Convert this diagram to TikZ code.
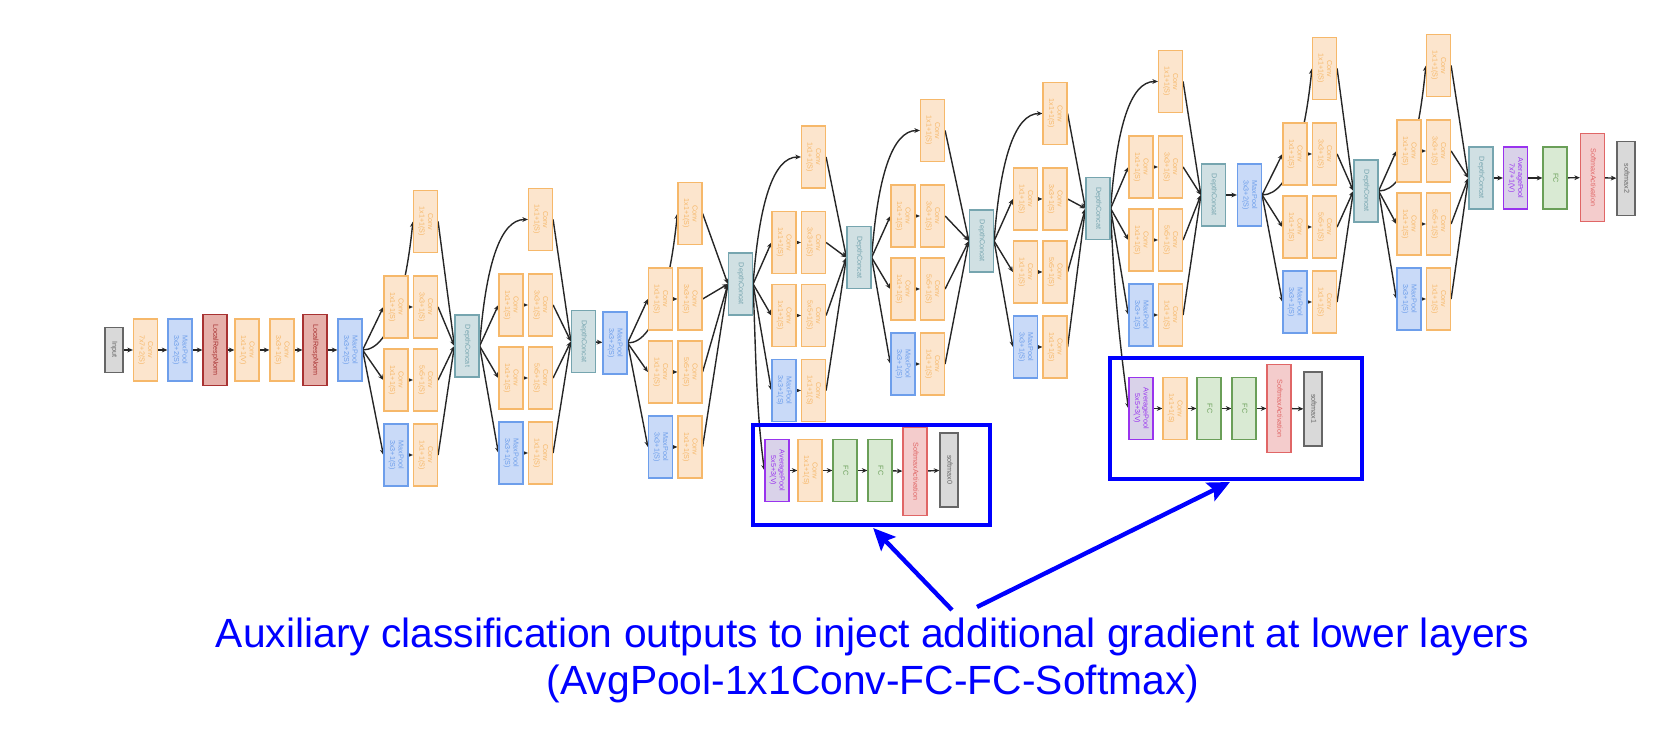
\documentclass[tikz,border=0pt]{standalone}
\usepackage{fontspec}
\setmainfont{Liberation Sans}
\usepackage{graphicx}
\usetikzlibrary{arrows.meta}
\pgfdeclarelayer{bg}
\pgfsetlayers{bg,main}
\definecolor{convF}{HTML}{FCE5CD}
\definecolor{convD}{HTML}{F6B86A}
\definecolor{poolF}{HTML}{C9DAF8}
\definecolor{poolD}{HTML}{6D9EEB}
\definecolor{lrnF}{HTML}{E6B0AA}
\definecolor{lrnD}{HTML}{A83232}
\definecolor{dcF}{HTML}{D0E0E3}
\definecolor{dcD}{HTML}{76A5AF}
\definecolor{apF}{HTML}{D9D2E9}
\definecolor{apD}{HTML}{9933EE}
\definecolor{fcF}{HTML}{D9EAD3}
\definecolor{fcD}{HTML}{6A9F58}
\definecolor{smaF}{HTML}{F4CCCC}
\definecolor{smaD}{HTML}{E06666}
\definecolor{smF}{HTML}{D9D9D9}
\definecolor{smD}{HTML}{666666}
\definecolor{capblue}{HTML}{0000FF}
\newcommand{\lbl}[1]{\rotatebox{-90}{\begin{tabular}{@{}c@{}}#1\end{tabular}}}
\tikzset{
  blk/.style={draw, line width=0.6pt, minimum width=12pt, minimum height=31pt, inner sep=0pt,
    font=\fontsize{3.6}{4.2}\selectfont},
  conv/.style={blk, fill=convF, draw=convD, text=convD},
  pool/.style={blk, fill=poolF, draw=poolD, text=poolD},
  lrn/.style={blk, fill=lrnF, draw=lrnD, text=lrnD, minimum height=35.5pt},
  dc/.style={blk, fill=dcF, draw=dcD, text=dcD},
  apool/.style={blk, fill=apF, draw=apD, text=apD},
  fc/.style={blk, fill=fcF, draw=fcD, text=fcD},
  sma/.style={blk, fill=smaF, draw=smaD, text=smaD, minimum height=44pt},
  smx/.style={blk, fill=smF, draw=smD, text=smD, minimum width=9pt, minimum height=37pt},
  inp/.style={blk, fill=smF, draw=smD, text=smD, minimum width=9pt, minimum height=22.5pt},
  edge/.style={draw=black!85, line width=0.7pt, -{Stealth[length=2.8pt,width=2.4pt]}},
  auxframe/.style={draw=capblue, line width=1.8pt, inner sep=0pt},
  bigarrow/.style={draw=capblue, line width=2.2pt, -{Stealth[length=11pt,width=10pt,inset=2pt]}},
  captext/.style={text=capblue, font=\fontsize{20.4}{24}\selectfont, inner sep=0pt},
}
% #1 prefix, #2 input node, #3 col1 x, #4 row2 y, #5 DC x, #6 DC y, #7 top style
\newcommand{\incep}[7]{%
  \node[conv] (#1t) at (#3+29.5,#4-85.5) {\lbl{Conv\\1x1+1(S)}};
  \node[conv] (#1a) at (#3,#4) {\lbl{Conv\\1x1+1(S)}};
  \node[conv] (#1b) at (#3+29.5,#4) {\lbl{Conv\\3x3+1(S)}};
  \node[conv] (#1c) at (#3,#4+73) {\lbl{Conv\\1x1+1(S)}};
  \node[conv] (#1d) at (#3+29.5,#4+73) {\lbl{Conv\\5x5+1(S)}};
  \node[pool] (#1e) at (#3,#4+148) {\lbl{MaxPool\\3x3+1(S)}};
  \node[conv] (#1f) at (#3+29.5,#4+148) {\lbl{Conv\\1x1+1(S)}};
  \node[dc] (#1o) at (#5,#6) {\lbl{DepthConcat}};
  \begin{pgfonlayer}{bg}
    \draw[edge] (#2.east) -- (#1a.west);
    \draw[edge] (#2.east) -- (#1c.west);
    \draw[edge] (#2.east) -- (#1e.west);
    \draw[edge] (#1a) -- (#1b);
    \draw[edge] (#1c) -- (#1d);
    \draw[edge] (#1e) -- (#1f);
    \draw[edge] (#1t.east) -- (#1o.west);
    \draw[edge] (#1b.east) -- (#1o.west);
    \draw[edge] (#1d.east) -- (#1o.west);
    \draw[edge] (#1f.east) -- (#1o.west);
    \ifnum#7=0
      \draw[edge] (#2.east) .. controls +(30,0) and +(-6,60) .. (#1t.west);
    \else
      \draw[edge] (#2.east) .. controls +(6,-80) and +(-28,0) .. (#1t.west);
    \fi
  \end{pgfonlayer}
}
\begin{document}
\begin{tikzpicture}[x=0.5pt,y=-0.5pt]
\useasboundingbox (0,0) rectangle (1680,747);
% stem
\node[inp] (in) at (114,350) {\lbl{Input}};
\node[conv] (c1) at (145.5,350) {\lbl{Conv\\7x7+2(S)}};
\node[pool] (p1) at (180,350) {\lbl{MaxPool\\3x3+2(S)}};
\node[lrn] (n1) at (215,350) {\lbl{LocalRespNorm}};
\node[conv] (c2) at (247,350) {\lbl{Conv\\1x1+1(V)}};
\node[conv] (c3) at (282,350) {\lbl{Conv\\3x3+1(S)}};
\node[lrn] (n2) at (315,350) {\lbl{LocalRespNorm}};
\node[pool] (p2) at (350,350) {\lbl{MaxPool\\3x3+2(S)}};
\begin{pgfonlayer}{bg}
\draw[edge] (in) -- (c1);
\draw[edge] (c1) -- (p1);
\draw[edge] (p1) -- (n1);
\draw[edge] (n1) -- (c2);
\draw[edge] (c2) -- (c3);
\draw[edge] (c3) -- (n2);
\draw[edge] (n2) -- (p2);
\end{pgfonlayer}
% inception modules
\incep{mA}{p2}{396}{307}{467}{346}{0}
\incep{mB}{mAo}{511}{305}{583.5}{341.5}{1}
\node[pool] (p3) at (615,343) {\lbl{MaxPool\\3x3+2(S)}};
\begin{pgfonlayer}{bg}\draw[edge] (mBo) -- (p3);\end{pgfonlayer}
\incep{mC}{p3}{660.5}{299}{740.5}{284}{0}
\incep{mD}{mCo}{784}{242.5}{859}{257.5}{1}
\incep{mE}{mDo}{903}{216}{981.5}{241}{1}
\incep{mF}{mEo}{1025.5}{199}{1098}{208.5}{1}
\incep{mG}{mFo}{1141}{167}{1213.5}{195}{1}
\node[pool] (p4) at (1249.5,195) {\lbl{MaxPool\\3x3+2(S)}};
\begin{pgfonlayer}{bg}\draw[edge] (mGo) -- (p4);\end{pgfonlayer}
\incep{mH}{p4}{1295}{154}{1366}{191}{0}
\incep{mI}{mHo}{1409}{151}{1481}{178}{0}
% head
\node[apool] (ap) at (1515.5,178) {\lbl{AveragePool\\7x7+1(V)}};
\node[fc] (fc) at (1555,178) {\lbl{FC}};
\node[sma] (sa) at (1592.5,177.5) {\lbl{SoftmaxActivation}};
\node[smx] (s2) at (1626,178.5) {\lbl{softmax2}};
\begin{pgfonlayer}{bg}
\draw[edge] (mIo) -- (ap);
\draw[edge] (ap) -- (fc);
\draw[edge] (fc) -- (sa);
\draw[edge] (sa) -- (s2);
\end{pgfonlayer}
% auxiliary 1
\node[auxframe, minimum width=118.5pt, minimum height=50pt] (box1) at (871.5,475) {};
\node[apool] (x1a) at (777,470.5) {\lbl{AveragePool\\5x5+3(V)}};
\node[conv] (x1b) at (810,470.5) {\lbl{Conv\\1x1+1(S)}};
\node[fc] (x1c) at (845,470.5) {\lbl{FC}};
\node[fc] (x1d) at (880,470.5) {\lbl{FC}};
\node[sma] (x1e) at (915,471.5) {\lbl{SoftmaxActivation}};
\node[smx] (x1f) at (949,470) {\lbl{softmax0}};
% auxiliary 2
\node[auxframe, minimum width=126pt, minimum height=60.5pt] (box2) at (1236,418.5) {};
\node[apool] (x2a) at (1141,408.5) {\lbl{AveragePool\\5x5+3(V)}};
\node[conv] (x2b) at (1175,408.5) {\lbl{Conv\\1x1+1(S)}};
\node[fc] (x2c) at (1209,408.5) {\lbl{FC}};
\node[fc] (x2d) at (1244,408.5) {\lbl{FC}};
\node[sma] (x2e) at (1279,408.5) {\lbl{SoftmaxActivation}};
\node[smx] (x2f) at (1313,409) {\lbl{softmax1}};
\begin{pgfonlayer}{bg}
\draw[edge] (mCo.east) .. controls +(3,80) and +(-8,-60) .. (x1a.west);
\draw[edge] (x1a) -- (x1b);
\draw[edge] (x1b) -- (x1c);
\draw[edge] (x1c) -- (x1d);
\draw[edge] (x1d) -- (x1e);
\draw[edge] (x1e) -- (x1f);
\draw[edge] (mFo.east) .. controls +(3,80) and +(-8,-60) .. (x2a.west);
\draw[edge] (x2a) -- (x2b);
\draw[edge] (x2b) -- (x2c);
\draw[edge] (x2c) -- (x2d);
\draw[edge] (x2d) -- (x2e);
\draw[edge] (x2e) -- (x2f);
\end{pgfonlayer}
% caption
\node[captext, anchor=base] (cap1) at (872.5,647) {Auxiliary classification outputs to inject additional gradient at lower layers};
\node[captext, anchor=base] (cap2) at (873,695) {(AvgPool-1x1Conv-FC-FC-Softmax)};
\coordinate (t1) at (952,610);
\coordinate (t2) at (977,607);
\draw[bigarrow] (t1) -- ([xshift=0.8pt,yshift=-0.6pt]box1.south);
\draw[bigarrow] (t2) -- ([xshift=-3pt,yshift=-0.6pt]box2.south);
\end{tikzpicture}
\end{document}
